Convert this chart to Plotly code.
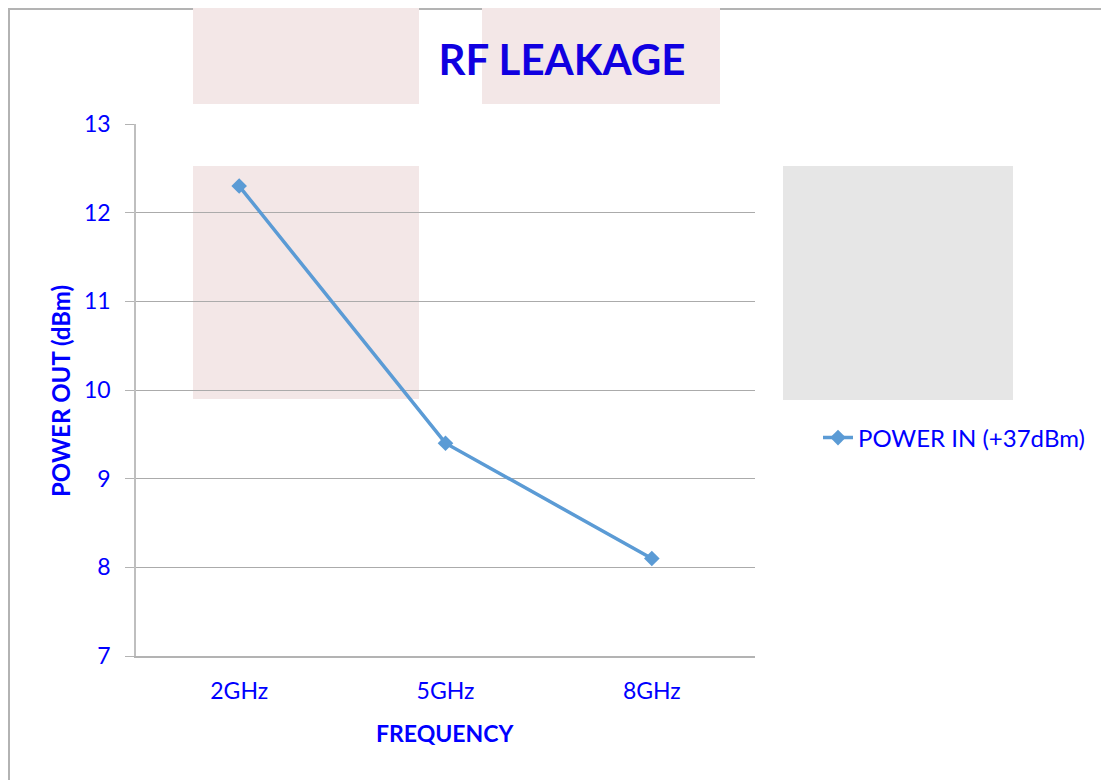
import plotly.graph_objects as go

categories = ["2GHz", "5GHz", "8GHz"]
power_out = [12.3, 9.4, 8.1]
series_name = "POWER IN (+37dBm)"
y_ticks = [7, 8, 9, 10, 11, 12, 13]

W, H = 1109, 780
OFF = 8  # page body margin offset
L, R, T, B = 136 - OFF, 755 - OFF, 124 - OFF, 656 - OFF

def px(x):
    return (x - OFF - L) / (R - L)

def py(y):
    return (B - (y - OFF)) / (B - T)

fig = go.Figure()
fig.add_trace(go.Scatter(
    x=categories, y=power_out, name=series_name, mode="lines+markers",
    line=dict(color="#5B9BD5", width=3.5),
    marker=dict(symbol="diamond", size=12, color="#5B9BD5"),
))

pink = "rgb(243,231,231)"
gray = "rgb(230,230,230)"
shapes = [
    dict(type="rect", xref="paper", yref="paper", x0=px(OFF + 1), x1=px(1125), y0=py(OFF + 1), y1=py(800),
         line=dict(color="#b3b3b3", width=2), fillcolor="rgba(0,0,0,0)", layer="below"),
    dict(type="rect", xref="paper", yref="paper", x0=px(193), x1=px(419), y0=py(104), y1=py(-2),
         line=dict(width=0), fillcolor=pink, layer="below"),
    dict(type="rect", xref="paper", yref="paper", x0=px(482), x1=px(720), y0=py(104), y1=py(-2),
         line=dict(width=0), fillcolor=pink, layer="below"),
    dict(type="rect", xref="paper", yref="paper", x0=px(193), x1=px(419), y0=py(399), y1=py(166),
         line=dict(width=0), fillcolor=pink, layer="below"),
    dict(type="rect", xref="paper", yref="paper", x0=px(783), x1=px(1013), y0=py(400), y1=py(166),
         line=dict(width=0), fillcolor=gray, layer="below"),
]

fig.update_layout(
    width=W, height=H,
    margin=dict(l=L, r=W - R, t=T, b=H - B, pad=0),
    paper_bgcolor="white", plot_bgcolor="rgba(0,0,0,0)",
    font=dict(family="Lato", color="#0000FF", size=23),
    title=dict(text="<b>RF LEAKAGE</b>", x=(562 - OFF) / W, y=1 - (60 - OFF) / H,
               xanchor="center", yanchor="middle",
               font=dict(family="Lato", size=42, color="rgb(16,0,224)")),
    shapes=shapes,
    showlegend=True,
    legend=dict(x=px(818), y=py(438), xanchor="left", yanchor="middle",
                font=dict(family="Lato", size=24, color="#0000FF"), bgcolor="rgba(0,0,0,0)"),
    xaxis=dict(type="category", range=[-0.5, 2.5], showgrid=False, showline=True,
               linecolor="#b3b3b3", linewidth=1.5, ticks="", zeroline=False,
               tickfont=dict(family="Lato", size=23, color="#0000FF"), ticklabelstandoff=14),
    yaxis=dict(range=[7, 13], tickvals=y_ticks, showgrid=True, gridcolor="#ababab", gridwidth=1,
               showline=True, linecolor="#bfbfbf", linewidth=1.5, ticks="outside", ticklen=9,
               tickcolor="#b3b3b3", zeroline=False, ticklabelstandoff=10,
               tickfont=dict(family="Lato", size=23, color="#0000FF")),
    annotations=[
        dict(text="<b>POWER OUT (dBm)</b>", xref="paper", yref="paper", x=px(60), y=py(391),
             textangle=-90, showarrow=False, xanchor="center", yanchor="middle",
             font=dict(family="Lato", size=24, color="#0000FF")),
        dict(text="<b>FREQUENCY</b>", xref="paper", yref="paper", x=px(445), y=py(733),
             showarrow=False, xanchor="center", yanchor="middle",
             font=dict(family="Lato", size=23, color="#0000FF")),
    ],
)

fig.write_html("out.html")
